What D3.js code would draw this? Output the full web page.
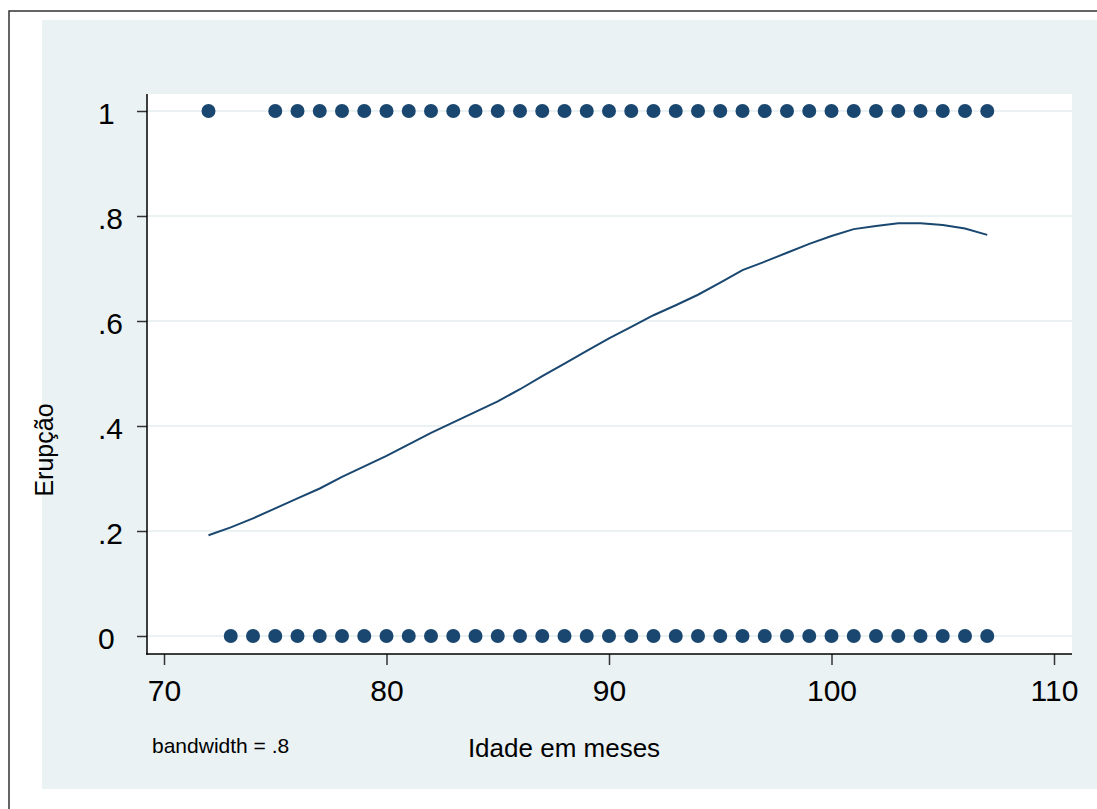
<!DOCTYPE html>
<html>
<head>
<meta charset="utf-8">
<script src="https://cdn.jsdelivr.net/npm/d3@7"></script>
<style>
  html, body { margin: 0; padding: 0; background: #ffffff; }
  svg { display: block; font-family: "Liberation Sans", Arial, sans-serif; }
</style>
</head>
<body>
<svg id="chart" width="1097" height="809"></svg>
<script>
// Observed data: ages (months) with eruption = 1 and eruption = 0
const agesEruption1 = [72, 75, 76, 77, 78, 79, 80, 81, 82, 83, 84, 85, 86, 87, 88, 89, 90,
  91, 92, 93, 94, 95, 96, 97, 98, 99, 100, 101, 102, 103, 104, 105, 106, 107];
const agesEruption0 = [73, 74, 75, 76, 77, 78, 79, 80, 81, 82, 83, 84, 85, 86, 87, 88, 89, 90,
  91, 92, 93, 94, 95, 96, 97, 98, 99, 100, 101, 102, 103, 104, 105, 106, 107];

// Lowess smooth (bandwidth .8)
const smoothAges = [72, 73, 74, 75, 76, 77, 78, 79, 80, 81, 82, 83, 84, 85, 86, 87, 88, 89, 90,
  91, 92, 93, 94, 95, 96, 97, 98, 99, 100, 101, 102, 103, 104, 105, 106, 107];
const smoothValues = [0.192, 0.207, 0.224, 0.243, 0.262, 0.281, 0.303, 0.323, 0.343, 0.365,
  0.387, 0.407, 0.427, 0.447, 0.470, 0.495, 0.519, 0.543, 0.567, 0.589, 0.611, 0.630, 0.650,
  0.673, 0.697, 0.713, 0.730, 0.747, 0.762, 0.775, 0.781, 0.786, 0.786, 0.783, 0.776, 0.764];

const xTicks = [70, 80, 90, 100, 110];
const yTicks = [0, 0.2, 0.4, 0.6, 0.8, 1];
const yTickLabels = ["0", ".2", ".4", ".6", ".8", "1"];

const xTitle = "Idade em meses";
const yTitle = "Erupção";
const noteText = "bandwidth = .8";

const navy = "#1a476f";
const svg = d3.select("#chart");

// outer frame and graph region
svg.append("rect").attr("x", 9).attr("y", 11).attr("width", 1200).attr("height", 900)
  .attr("fill", "#ffffff").attr("stroke", "#333333").attr("stroke-width", 1.5);
svg.append("rect").attr("x", 42).attr("y", 20).attr("width", 1100).attr("height", 769)
  .attr("fill", "#eaf2f3");

const plot = { left: 147, right: 1072, top: 94, bottom: 654 };
svg.append("rect").attr("x", plot.left).attr("y", plot.top)
  .attr("width", plot.right - plot.left).attr("height", plot.bottom - plot.top)
  .attr("fill", "#ffffff");

const x = d3.scaleLinear().domain([70, 110]).range([164, 1054]);
const y = d3.scaleLinear().domain([0, 1]).range([636, 111]);

// gridlines
svg.append("g").selectAll("line").data(yTicks).join("line")
  .attr("x1", plot.left).attr("x2", plot.right)
  .attr("y1", d => y(d)).attr("y2", d => y(d))
  .attr("stroke", "#eaf2f3").attr("stroke-width", 2);

// y axis
const yAxis = d3.axisLeft(y).tickValues(yTicks).tickSize(10)
  .tickFormat((d, i) => yTickLabels[i]);
const gy = svg.append("g").attr("transform", `translate(${plot.left},0)`).call(yAxis);
gy.select(".domain").remove();
gy.selectAll(".tick line").attr("stroke", "#333333").attr("stroke-width", 1.5);
gy.selectAll(".tick text").attr("font-size", 30).attr("fill", "#000")
  .attr("font-family", "Liberation Sans, Arial, sans-serif")
  .attr("text-anchor", "start").attr("x", 98 - plot.left).attr("dy", null).attr("y", 12);

// x axis
const xAxis = d3.axisBottom(x).tickValues(xTicks).tickSize(11).tickFormat(d3.format("d"));
const gx = svg.append("g").attr("transform", `translate(0,${plot.bottom})`).call(xAxis);
gx.select(".domain").remove();
gx.selectAll(".tick line").attr("stroke", "#333333").attr("stroke-width", 1.5);
gx.selectAll(".tick text").attr("font-size", 30).attr("fill", "#000")
  .attr("font-family", "Liberation Sans, Arial, sans-serif")
  .attr("dy", null).attr("y", 701 - plot.bottom);

// axis lines
svg.append("line").attr("x1", plot.left).attr("x2", plot.left)
  .attr("y1", plot.top).attr("y2", plot.bottom + 0.75)
  .attr("stroke", "#000").attr("stroke-width", 1.5);
svg.append("line").attr("x1", plot.left - 0.75).attr("x2", plot.right)
  .attr("y1", plot.bottom).attr("y2", plot.bottom)
  .attr("stroke", "#000").attr("stroke-width", 1.5);

// points
svg.append("g").selectAll("circle").data(agesEruption1).join("circle")
  .attr("cx", d => x(d)).attr("cy", y(1)).attr("r", 7).attr("fill", navy);
svg.append("g").selectAll("circle").data(agesEruption0).join("circle")
  .attr("cx", d => x(d)).attr("cy", y(0)).attr("r", 7).attr("fill", navy);

// lowess line
const lineData = smoothAges.map((a, i) => [a, smoothValues[i]]);
svg.append("path").datum(lineData)
  .attr("d", d3.line().x(d => x(d[0])).y(d => y(d[1])))
  .attr("fill", "none").attr("stroke", navy).attr("stroke-width", 2);

// titles
svg.append("text").attr("x", 564).attr("y", 757).attr("text-anchor", "middle")
  .attr("font-size", 26).attr("fill", "#000").text(xTitle);
svg.append("text").attr("transform", "translate(53,450) rotate(-90)")
  .attr("text-anchor", "middle").attr("font-size", 25).attr("fill", "#000").text(yTitle);
svg.append("text").attr("x", 152).attr("y", 753).attr("font-size", 21)
  .attr("fill", "#000").text(noteText);
</script>
</body>
</html>
